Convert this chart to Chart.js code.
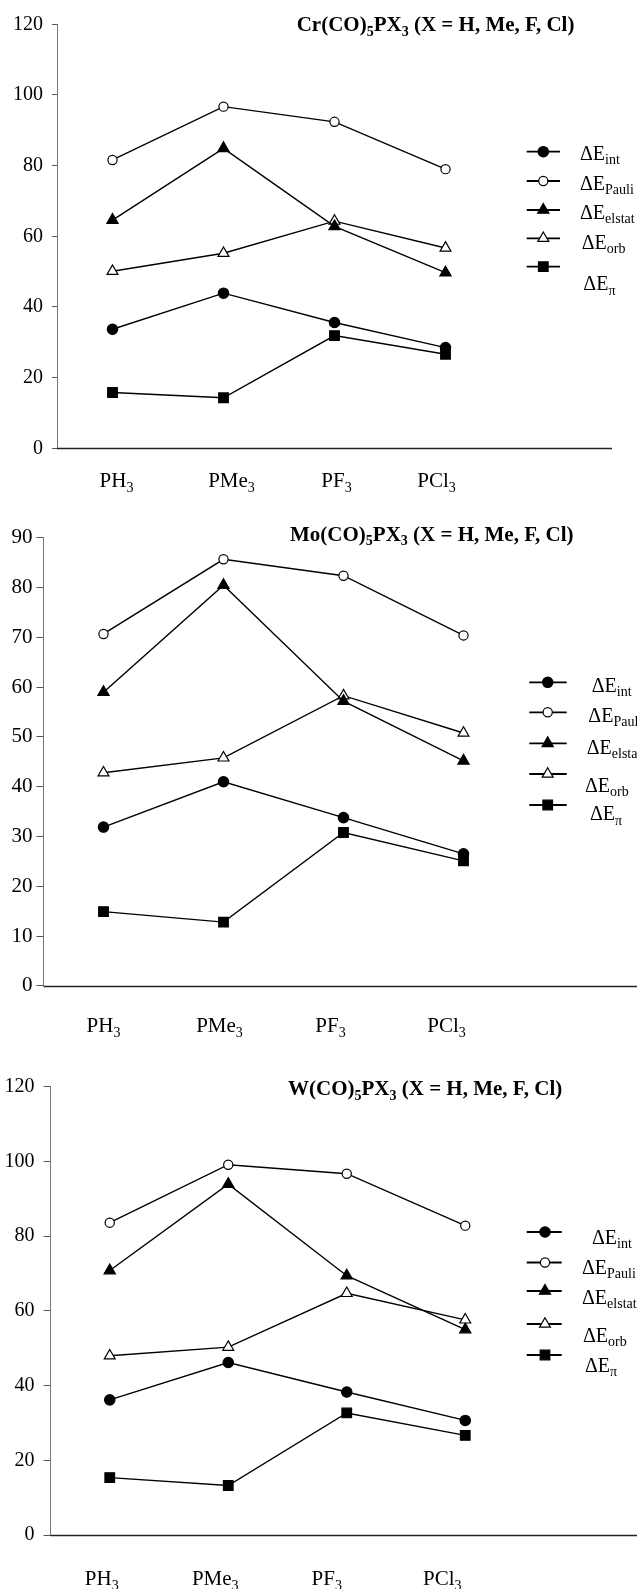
<!DOCTYPE html>
<html>
<head>
<meta charset="utf-8">
<script src="https://cdn.jsdelivr.net/npm/chart.js@4/dist/chart.umd.min.js"></script>
<style>
  html, body { margin: 0; padding: 0; background: #fff; overflow: hidden; }
  body { width: 637px; height: 1589px; position: relative; }
  canvas { position: absolute; left: 0; }
</style>
</head>
<body>
<canvas id="crChart" width="637" height="500" style="top:0px"></canvas>
<canvas id="moChart" width="637" height="540" style="top:500px"></canvas>
<canvas id="wChart" width="637" height="549" style="top:1040px"></canvas>
<script>
// categories (digits are drawn as subscripts)
const ligands = ['PH3', 'PMe3', 'PF3', 'PCl3'];
const seriesNames = ['int', 'Pauli', 'elstat', 'orb', 'π'];

// Cr(CO)5PX3
const crInt = [33.7, 43.9, 35.6, 28.5];
const crPauli = [81.6, 96.7, 92.4, 79.0];
const crElstat = [64.6, 84.9, 62.8, 49.7];
const crOrb = [50.1, 55.2, 64.3, 56.7];
const crPi = [15.8, 14.3, 31.9, 26.6];
const crTicks = { max: 120, step: 20 };

// Mo(CO)5PX3
const moInt = [31.9, 41.0, 33.8, 26.5];
const moPauli = [70.7, 85.7, 82.4, 70.4];
const moElstat = [59.0, 80.5, 57.2, 45.2];
const moOrb = [42.8, 45.8, 58.3, 50.8];
const moPi = [14.9, 12.8, 30.8, 25.1];
const moTicks = { max: 90, step: 10 };

// W(CO)5PX3
const wInt = [36.2, 46.2, 38.3, 30.7];
const wPauli = [83.6, 99.1, 96.7, 82.8];
const wElstat = [70.8, 93.9, 69.4, 55.0];
const wOrb = [48.0, 50.3, 64.7, 57.6];
const wPi = [15.4, 13.3, 32.7, 26.7];
const wTicks = { max: 120, step: 20 };

const FONT = '"Liberation Serif", "Times New Roman", serif';
Chart.defaults.font.family = FONT;
Chart.defaults.color = '#000';

// marker look for each series, in seriesNames order
const markers = [
    { pointStyle: 'circle', radius: 5.2, fill: '#000' },
    { pointStyle: 'circle', radius: 4.6, fill: '#fff' },
    { pointStyle: 'triangle', radius: 6.5, fill: '#000' },
    { pointStyle: 'triangle', radius: 6.3, fill: '#fff' },
    { pointStyle: 'rect', radius: 6.8, fill: '#000' }
];

// split text so that digits become subscripts
function parts(str) {
    return str.split(/(\d+)/).filter(s => s).map(s => [s, /^\d+$/.test(s)]);
}

function drawRich(ctx, segs, x, baseline, size, weight, align) {
    const subSize = Math.round(size * 0.68);
    ctx.save();
    ctx.fillStyle = '#000';
    ctx.textAlign = 'left';
    ctx.textBaseline = 'alphabetic';
    const fonts = segs.map(([, sub]) => `${weight} ${sub ? subSize : size}px ${FONT}`);
    let total = 0;
    const widths = segs.map(([t], i) => {
        ctx.font = fonts[i];
        const w = ctx.measureText(t).width;
        total += w;
        return w;
    });
    let cx = align === 'center' ? x - total / 2 : x;
    segs.forEach(([t, sub], i) => {
        ctx.font = fonts[i];
        ctx.fillText(t, cx, baseline + (sub ? size * 0.22 : 0));
        cx += widths[i];
    });
    ctx.restore();
}

// title, category labels, long x axis line and the legend
const decorPlugin = {
    id: 'decor',
    beforeDatasetsDraw(chart, args, opts) {
        // x axis line runs on past the last category
        const ctx = chart.ctx;
        const area = chart.chartArea;
        const y = Math.round(area.bottom) + 0.5;
        ctx.save();
        ctx.strokeStyle = '#222';
        ctx.lineWidth = 1.4;
        ctx.beginPath();
        ctx.moveTo(area.left, y);
        ctx.lineTo(opts.axisEnd, y);
        ctx.stroke();
        ctx.restore();
    },
    afterDraw(chart, args, opts) {
        const ctx = chart.ctx;
        const xScale = chart.scales.x;

        // category labels
        ligands.forEach((lab, i) => {
            const x = xScale.getPixelForValue(i) + opts.labelShift[i];
            drawRich(ctx, parts(lab), x, opts.labelY + 7, 21, 'normal', 'center');
        });

        // title
        drawRich(ctx, parts(opts.title), opts.titleX, opts.titleY + 7, 21, 'bold', 'left');

        // legend
        const lg = opts.legend;
        chart.data.datasets.forEach((ds, i) => {
            const y = lg.rows[i];
            ctx.save();
            ctx.strokeStyle = '#000';
            ctx.lineWidth = 1.8;
            ctx.beginPath();
            ctx.moveTo(lg.lineL, y);
            ctx.lineTo(lg.lineR, y);
            ctx.stroke();
            ctx.fillStyle = markers[i].fill;
            ctx.lineWidth = 1.2;
            Chart.helpers.drawPoint(ctx, {
                pointStyle: markers[i].pointStyle,
                radius: markers[i].radius,
                rotation: 0,
                borderWidth: 1.2
            }, lg.markerX, y);
            ctx.restore();
            drawRich(ctx, [['ΔE', false], [seriesNames[i], true]],
                lg.textX[i], lg.textY[i] + 7, 20, 'normal', 'left');
        });
    }
};

function makeChart(id, values, ticks, layout) {
    const ctx = document.getElementById(id).getContext('2d');
    const canvasW = 637;
    const right = layout.left + 4 * layout.slot;
    return new Chart(ctx, {
        type: 'line',
        data: {
            labels: ligands,
            datasets: values.map((vals, i) => ({
                label: 'ΔE' + seriesNames[i],
                data: vals,
                borderColor: '#000',
                borderWidth: 1.4,
                tension: 0,
                pointStyle: markers[i].pointStyle,
                pointRadius: markers[i].radius,
                pointBackgroundColor: markers[i].fill,
                pointBorderColor: '#000',
                pointBorderWidth: 1.2
            }))
        },
        options: {
            responsive: false,
            animation: false,
            devicePixelRatio: 1,
            layout: {
                padding: {
                    left: 0,
                    top: layout.top,
                    bottom: layout.height - layout.bottom,
                    right: canvasW - right
                }
            },
            scales: {
                x: {
                    type: 'category',
                    offset: true,
                    ticks: { display: false },
                    grid: { display: false },
                    border: { display: false },
                    afterFit: s => { s.height = 0; }
                },
                y: {
                    min: 0,
                    max: ticks.max,
                    ticks: {
                        stepSize: ticks.step,
                        color: '#000',
                        padding: layout.tickPad,
                        font: { family: FONT, size: layout.tickSize }
                    },
                    grid: {
                        display: true,
                        drawOnChartArea: false,
                        drawTicks: true,
                        tickLength: layout.tickLen,
                        color: '#555'
                    },
                    border: { color: '#777', width: 1 },
                    afterFit: s => { s.width = layout.left; }
                }
            },
            plugins: {
                legend: { display: false },
                tooltip: { enabled: false },
                decor: layout.decor
            }
        },
        plugins: [decorPlugin]
    });
}

makeChart('crChart', [crInt, crPauli, crElstat, crOrb, crPi], crTicks, {
    height: 500, left: 57, top: 24.3, bottom: 448.3, slot: 111,
    tickLen: 5, tickPad: 9, tickSize: 20,
    decor: {
        title: 'Cr(CO)5PX3 (X = H, Me, F, Cl)', titleX: 296.7, titleY: 24.3,
        axisEnd: 612, labelY: 480, labelShift: [4, 8, 2, -9],
        legend: {
            markerX: 543.3, lineL: 526.7, lineR: 560,
            rows: [151.7, 181, 210, 238.3, 266.7],
            textX: [580, 580, 580, 581.7, 583.3],
            textY: [153, 183, 212, 241.7, 283.3]
        }
    }
});

makeChart('moChart', [moInt, moPauli, moElstat, moOrb, moPi], moTicks, {
    height: 540, left: 43.5, top: 37.9, bottom: 485.8, slot: 120,
    tickLen: 7, tickPad: 4, tickSize: 21,
    decor: {
        title: 'Mo(CO)5PX3 (X = H, Me, F, Cl)', titleX: 290, titleY: 33.8,
        axisEnd: 637, labelY: 525, labelShift: [0, -4, -13, -17],
        legend: {
            markerX: 547.7, lineL: 529.3, lineR: 566.7,
            rows: [182.3, 212.3, 243.3, 274, 305],
            textX: [591.7, 588.3, 586.7, 585, 590],
            textY: [185, 215, 247, 285, 313.3]
        }
    }
});

makeChart('wChart', [wInt, wPauli, wElstat, wOrb, wPi], wTicks, {
    height: 549, left: 50.5, top: 46.6, bottom: 495.2, slot: 118.5,
    tickLen: 7, tickPad: 9, tickSize: 20,
    decor: {
        title: 'W(CO)5PX3 (X = H, Me, F, Cl)', titleX: 288, titleY: 48.3,
        axisEnd: 637, labelY: 538, labelShift: [-8, -13, -20, -23],
        legend: {
            markerX: 545, lineL: 526.7, lineR: 561.7,
            rows: [192, 222.5, 251, 284, 315],
            textX: [592, 582, 582, 583, 585],
            textY: [196.8, 227, 257, 294.8, 325]
        }
    }
});
</script>
</body>
</html>
